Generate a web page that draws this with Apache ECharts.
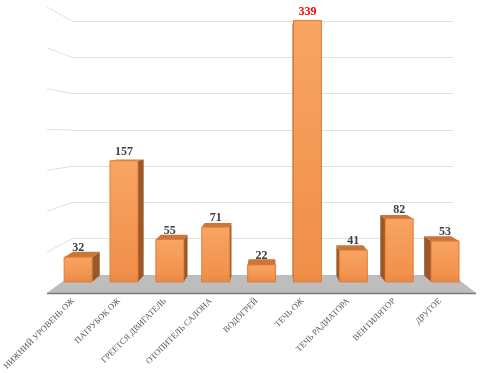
<!DOCTYPE html>
<html><head><meta charset="utf-8">
<script src="https://cdn.jsdelivr.net/npm/echarts@6.0.0/dist/echarts.min.js"></script>
<style>html,body{margin:0;padding:0;background:#fff}#c{width:480px;height:373px}</style>
</head><body><div id="c"></div>
<script>
const categories = ['НИЖНИЙ УРОВЕНЬ ОЖ','ПАТРУБОК ОЖ','ГРЕЕТСЯ ДВИГАТЕЛЬ','ОТОПИТЕЛЬ САЛОНА','ВОДОГРЕЙ','ТЕЧЬ ОЖ','ТЕЧЬ РАДИАТОРА','ВЕНТИЛЯТОР','ДРУГОЕ'];
const values = [32,157,55,71,22,339,41,82,53];
const gridValues = [0,50,100,150,200,250,300,350];
const axisMax = 350;

// perspective settings (layout only)
const VP = [270, 132];
const WALL_DEPTH = 1.126;
const BAR_DEPTH = 0.957;
const proj = (p, k) => [VP[0] + (p[0] - VP[0]) * k, VP[1] + (p[1] - VP[1]) * k];
const maxVal = Math.max(...values);

const chart = echarts.init(document.getElementById('c'), null, {renderer: 'canvas'});
chart.setOption({
  animation: false,
  backgroundColor: '#ffffff',
  grid: [
    {left: 55, right: 12, top: 12, bottom: 86},
    {left: 72, right: 27, top: 21, bottom: 98}
  ],
  xAxis: [
    {gridIndex: 0, type: 'category', data: categories,
     axisLine: {show: false}, axisTick: {show: false}, splitLine: {show: false},
     axisLabel: {interval: 0, rotate: 45, margin: 13, padding: [0, 7, 0, 0], fontFamily: '"Liberation Serif", serif', fontSize: 8.6, color: '#5a5a5a'}},
    {gridIndex: 1, type: 'value', min: 0, max: 1, show: false}
  ],
  yAxis: [
    {gridIndex: 0, type: 'value', min: 0, max: axisMax, show: false},
    {gridIndex: 1, type: 'value', min: 0, max: axisMax, interval: 50,
     axisLabel: {show: false}, axisLine: {show: false}, axisTick: {show: false},
     splitLine: {show: true, lineStyle: {color: '#e0e0e0', width: 1}}}
  ],
  series: [
    {
      type: 'custom', xAxisIndex: 1, yAxisIndex: 1, z: 1, silent: true,
      data: gridValues.map(v => [0, v]),
      renderItem: (params, api) => {
        const p = api.coord([0, api.value(1)]);
        const q = proj(p, WALL_DEPTH);
        return {type: 'line', shape: {x1: p[0], y1: p[1], x2: q[0], y2: q[1]}, style: {stroke: '#e0e0e0', lineWidth: 1}};
      }
    },
    {
      type: 'custom', xAxisIndex: 1, yAxisIndex: 1, z: 2, silent: true,
      data: [[0, 0]],
      renderItem: (params, api) => {
        const a = api.coord([0, 0]), b = api.coord([1, 0]);
        const fa = proj(a, WALL_DEPTH), fb = proj(b, WALL_DEPTH);
        return {type: 'group', children: [
          {type: 'polygon', shape: {points: [a, b, fb, fa]}, style: {fill: '#bdbdbd'}},
          {type: 'line', shape: {x1: fa[0], y1: fa[1] + 0.5, x2: fb[0], y2: fb[1] + 0.5}, style: {stroke: '#7a7a7a', lineWidth: 1.5}}
        ]};
      }
    },
    {
      type: 'custom', xAxisIndex: 0, yAxisIndex: 0, z: 3, silent: true,
      data: values.map((v, i) => [i, v]),
      renderItem: (params, api) => {
        const i = api.value(0), v = api.value(1);
        const top = api.coord([i, v]), base = api.coord([i, 0]);
        const w = api.size([1, 0])[0] * 0.61;
        const cx = top[0], x0 = cx - w / 2, x1 = cx + w / 2, yT = top[1], yB = base[1];
        const back = p => proj(p, BAR_DEPTH);
        const ch = [];
        let sx = null;
        if (x1 < VP[0]) sx = x1; else if (x0 > VP[0]) sx = x0;
        if (sx !== null) {
          ch.push({type: 'polygon', shape: {points: [[sx, yT], [sx, yB], back([sx, yB]), back([sx, yT])]},
            style: {fill: '#94501f', opacity: 0.95}});
        }
        if (yT > VP[1]) {
          ch.push({type: 'polygon', shape: {points: [[x0, yT], [x1, yT], back([x1, yT]), back([x0, yT])]},
            style: {fill: '#c96e30', opacity: 0.95}});
        }
        ch.push({type: 'rect', shape: {x: x0, y: yT, width: w, height: yB - yT},
          style: {fill: {type: 'linear', x: 0, y: 0, x2: 0, y2: 1, colorStops: [{offset: 0, color: '#f7a05c'}, {offset: 1, color: '#ef883f'}]},
                  stroke: '#e0782f', lineWidth: 1, opacity: 0.95}});
        ch.push({type: 'text', x: cx, y: yT - 3,
          style: {text: String(v), textAlign: 'center', textVerticalAlign: 'bottom',
                  font: 'bold 12px "Liberation Serif", serif', fill: v === maxVal ? '#ff0000' : '#3f3f3f'}});
        return {type: 'group', children: ch};
      }
    }
  ]
});
</script></body></html>
